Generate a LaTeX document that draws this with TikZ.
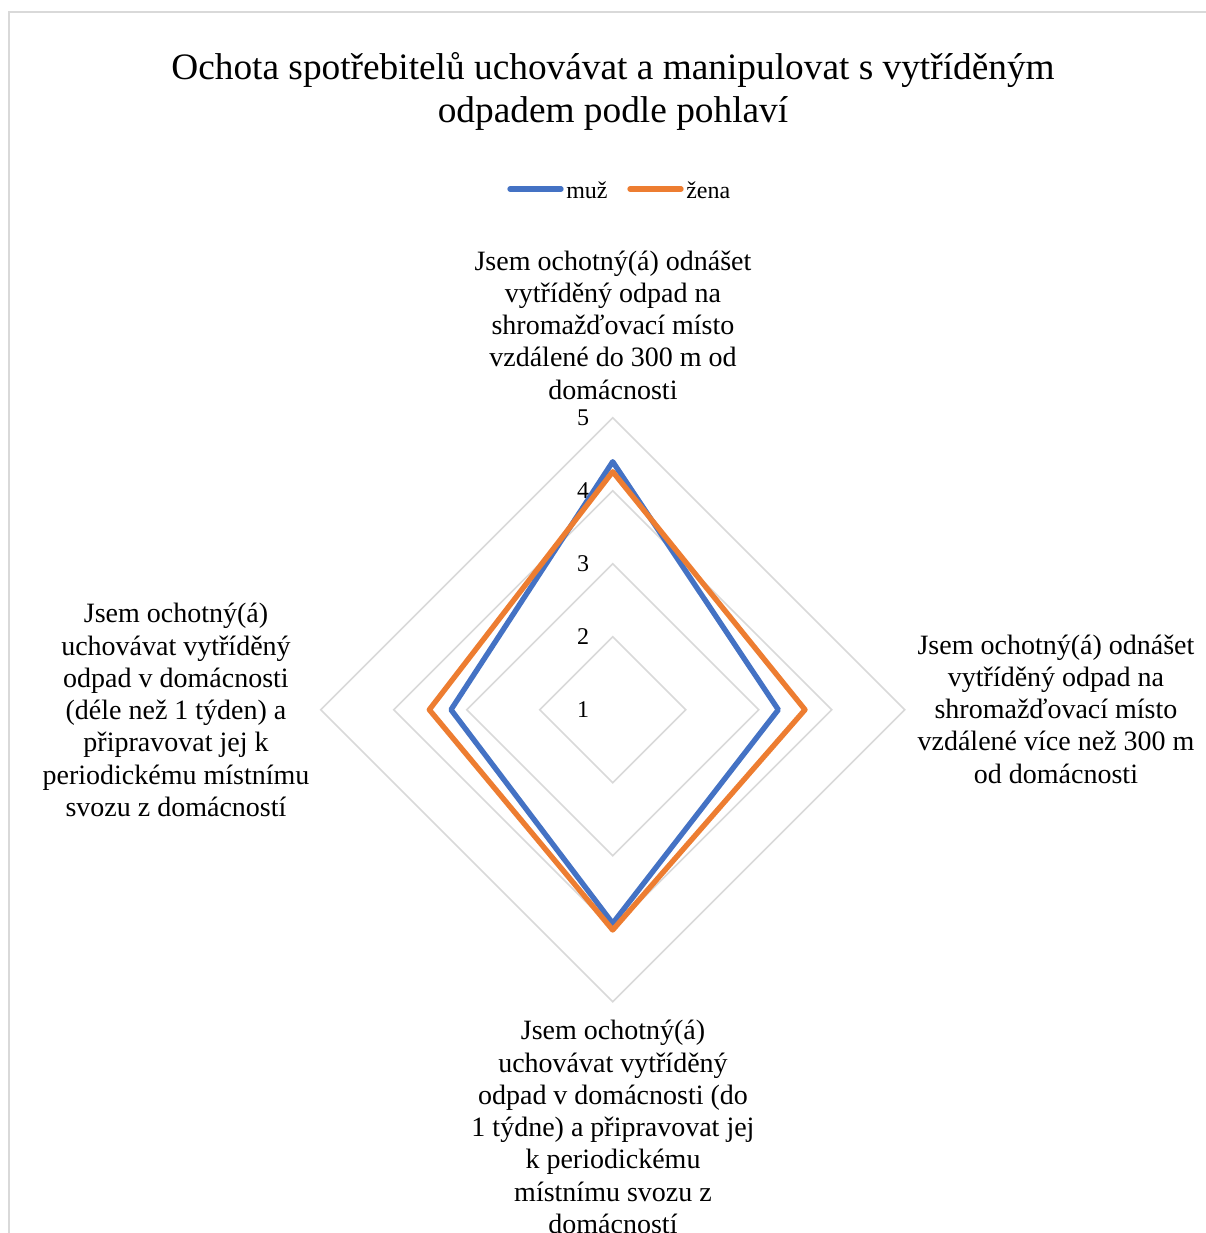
\documentclass[tikz,border=0pt]{standalone}
\usepackage{fontspec}
\setmainfont{Liberation Serif}
\definecolor{muzblue}{HTML}{4472C4}
\definecolor{zenaorange}{HTML}{ED7D31}
\definecolor{gridgray}{HTML}{D9D9D9}
\begin{document}
\begin{tikzpicture}[x=0.75pt,y=-0.75pt,
  gridline/.style={draw=gridgray,line width=1.2pt},
  serie/.style={line width=4pt,line join=round,line cap=round},
  axlabel/.style={align=center,font=\fontsize{21}{24.2}\selectfont,inner sep=0pt},
  ticklabel/.style={font=\fontsize{18}{20}\selectfont,inner sep=0pt},
  legtext/.style={font=\fontsize{18}{20}\selectfont,inner sep=0pt,anchor=west}]
\useasboundingbox (0,0) rectangle (1206,1233);
\fill[white] (0,0) rectangle (1206,1233);
\begin{scope}
\clip (0,0) rectangle (1206,1233);
\draw[draw=gridgray,line width=1.5pt] (9,1250) -- (9,12) -- (1220,12);
\end{scope}
\def\cx{612.7}
\def\cy{709.7}
% grid diamonds
\foreach \r in {73,146,219,292}{
  \draw[gridline] (\cx,\cy-\r) -- (\cx+\r,\cy) -- (\cx,\cy+\r) -- (\cx-\r,\cy) -- cycle;
}
% title
\node[align=center,font=\fontsize{28}{32.3}\selectfont,inner sep=0pt] (title) at (613,91) {Ochota spotřebitelů uchovávat a manipulovat s vytříděným\\odpadem podle pohlaví};
% legend
\coordinate (lm1) at (510,189); \coordinate (lm2) at (561,189);
\coordinate (lz1) at (630,189); \coordinate (lz2) at (681,189);
\draw[serie,muzblue] (lm1) -- (lm2);
\draw[serie,zenaorange] (lz1) -- (lz2);
\node[legtext] (lmuz) at (566,190) {muž};
\node[legtext] (lzena) at (686,190) {žena};
% tick labels
\node[ticklabel] (t5) at (583,418) {5};
\node[ticklabel] (t4) at (583,491) {4};
\node[ticklabel] (t3) at (583,564) {3};
\node[ticklabel] (t2) at (583,637) {2};
\node[ticklabel] (t1) at (583,710) {1};
% axis labels
\node[axlabel] (atop) at (613,325) {Jsem ochotný(á) odnášet\\vytříděný odpad na\\shromažďovací místo\\vzdálené do 300 m od\\domácnosti};
\node[axlabel] (aright) at (1056,709) {Jsem ochotný(á) odnášet\\vytříděný odpad na\\shromažďovací místo\\vzdálené více než 300 m\\od domácnosti};
\node[axlabel] (aleft) at (176,710) {Jsem ochotný(á)\\uchovávat vytříděný\\odpad v domácnosti\\(déle než 1 týden) a\\připravovat jej k\\periodickému místnímu\\svozu z domácností};
\node[axlabel] (abottom) at (613,1127) {Jsem ochotný(á)\\uchovávat vytříděný\\odpad v domácnosti (do\\1 týdne) a připravovat jej\\k periodickému\\místnímu svozu z\\domácností};
% series
\draw[serie,muzblue] (\cx,\cy-248) -- (\cx+165.6,\cy) -- (\cx,\cy+213.6) -- (\cx-161.7,\cy) -- cycle;
\draw[serie,zenaorange] (\cx,\cy-238) -- (\cx+192.3,\cy) -- (\cx,\cy+220.3) -- (\cx-183.4,\cy) -- cycle;
\end{tikzpicture}
\end{document}
